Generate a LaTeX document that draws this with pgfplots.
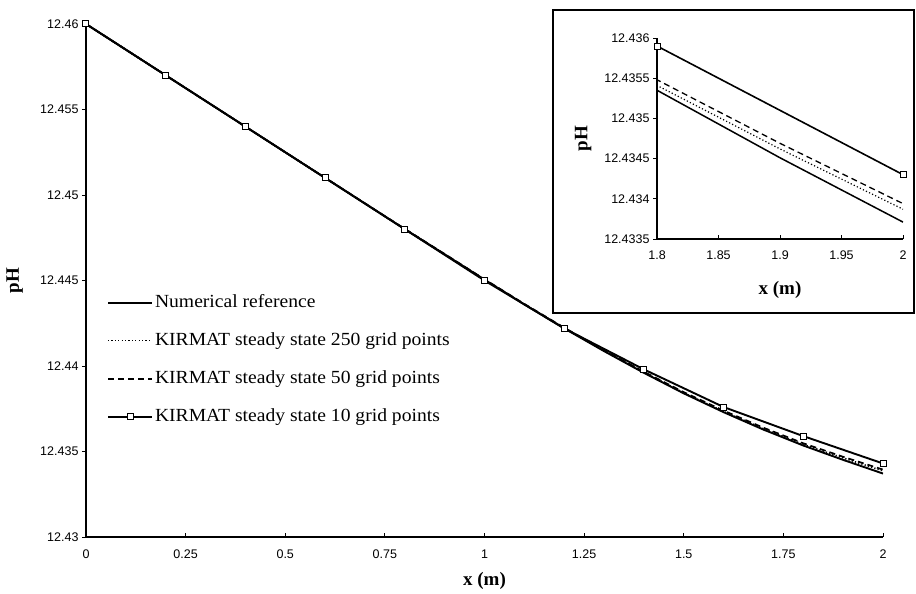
\documentclass[border=0pt]{standalone}
\usepackage{fontspec}
\setmainfont{Liberation Serif}
\newfontfamily\arial{Liberation Sans}
\newfontfamily\legfont[FakeStretch=1.06]{Liberation Serif}
\usepackage{pgfplots}
\pgfplotsset{compat=1.18}
\usepackage{pgfplotstable}

\pgfplotstableread{
x n k250 k50
0.0 12.46000 12.46000 12.46000
0.1 12.45850 12.45850 12.45850
0.2 12.45700 12.45700 12.45700
0.3 12.45550 12.45550 12.45550
0.4 12.45400 12.45400 12.45400
0.5 12.45250 12.45250 12.45250
0.6 12.45100 12.45100 12.45101
0.7 12.44950 12.44950 12.44951
0.8 12.44800 12.44801 12.44802
0.9 12.44653 12.44654 12.44655
1.0 12.44505 12.44506 12.44507
1.1 12.44360 12.44361 12.44363
1.2 12.44220 12.44222 12.44224
1.3 12.44087 12.44089 12.44092
1.4 12.43960 12.43963 12.43966
1.5 12.43840 12.43843 12.43847
1.6 12.43730 12.43734 12.43739
1.7 12.43628 12.43633 12.43639
1.8 12.43535 12.43541 12.43548
1.9 12.43451 12.43462 12.43469
2.0 12.43371 12.43387 12.43394
}\curves

\pgfplotstableread{
x k10
0.0 12.4600
0.2 12.4570
0.4 12.4540
0.6 12.4510
0.8 12.4480
1.0 12.4450
1.2 12.4422
1.4 12.4398
1.6 12.4376
1.8 12.4359
2.0 12.4343
}\ten

\pgfplotsset{
  kirstyle/.style={
    axis x line=bottom, axis y line=left,
    axis line style={-, line width=1.2pt},
    xtick align=inside, ytick align=outside,
    major tick length=4pt,
    tick style={black, line width=0.8pt},
    ticklabel style={font=\arial\fontsize{12.5}{14}\selectfont},
    label style={font=\fontsize{19}{21}\selectfont\bfseries},
    scaled ticks=false,
  },
  numstyle/.style={black, line width=1.5pt},
  s250/.style={black, line width=1.2pt, dash pattern=on 1.2pt off 2.2pt},
  s50/.style={black, line width=1.3pt, dash pattern=on 6pt off 4pt},
  s10/.style={black, line width=1.6pt, mark=square*, mark size=3pt,
    mark options={fill=white, solid, line width=1pt}},
}

\begin{document}
\begin{tikzpicture}
\useasboundingbox (-86pt,-57pt) rectangle (830pt,537pt);
\begin{axis}[
  kirstyle,
  at={(0pt,0pt)}, anchor=south west,
  scale only axis, width=797pt, height=513pt,
  xmin=0, xmax=2, ymin=12.43, ymax=12.46,
  xtick={0,0.25,0.5,0.75,1,1.25,1.5,1.75,2},
  xticklabels={0,0.25,0.5,0.75,1,1.25,1.5,1.75,2},
  ytick={12.43,12.435,12.44,12.445,12.45,12.455,12.46},
  yticklabels={12.43,12.435,12.44,12.445,12.45,12.455,12.46},
  xticklabel style={yshift=-9pt},
  xlabel={x (m)}, ylabel={pH},
  x label style={at={(axis description cs:0.5,-0.0858)}, anchor=center},
  y label style={at={(axis description cs:-0.0895,0.5)}, anchor=center},
  legend style={draw=none, fill=none, at={(axis cs:0.045,12.44433)}, anchor=north west,
    font=\legfont\fontsize{18.5}{20}\selectfont, row sep=21pt,
    nodes={inner xsep=2pt, inner ysep=0pt, text height=13pt, text depth=4pt}},
  legend cell align=left,
  legend image code/.code={\draw[mark repeat=2,mark phase=2,#1] plot coordinates {(0pt,0pt) (22pt,0pt) (44pt,0pt)};},
]
\addplot[numstyle, line width=1.9pt] table[x=x,y=n] {\curves};
\addlegendentry{Numerical reference}
\addplot[s250, line width=1.6pt] table[x=x,y=k250] {\curves};
\addlegendentry{KIRMAT steady state 250 grid points}
\addplot[s50, line width=1.7pt] table[x=x,y=k50] {\curves};
\addlegendentry{KIRMAT steady state 50 grid points}
\addplot[s10, line width=1.9pt] table[x=x,y=k10] {\ten};
\addlegendentry{KIRMAT steady state 10 grid points}
\end{axis}
\draw[line width=1.2pt, fill=white] (467pt,224pt) rectangle (828pt,527pt);
\begin{axis}[
  kirstyle,
  at={(571pt,298pt)}, anchor=south west,
  scale only axis, width=246pt, height=201pt,
  xmin=1.8, xmax=2, ymin=12.4335, ymax=12.436,
  xtick={1.8,1.85,1.9,1.95,2},
  xticklabels={1.8,1.85,1.9,1.95,2},
  ytick={12.4335,12.434,12.4345,12.435,12.4355,12.436},
  yticklabels={12.4335,12.434,12.4345,12.435,12.4355,12.436},
  xticklabel style={yshift=-8pt},
  xlabel={x (m)}, ylabel={pH},
  x label style={at={(axis description cs:0.5,-0.254)}, anchor=center},
  y label style={at={(axis description cs:-0.30,0.5)}, anchor=center},
]
\addplot[numstyle] table[x=x,y=n] {\curves};
\addplot[s250] table[x=x,y=k250] {\curves};
\addplot[s50] table[x=x,y=k50] {\curves};
\addplot[s10] table[x=x,y=k10] {\ten};
\end{axis}
\end{tikzpicture}
\end{document}
